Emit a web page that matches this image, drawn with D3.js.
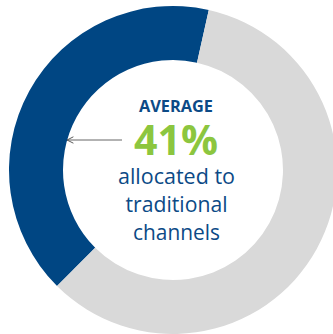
<!DOCTYPE html>
<html>
<head>
<meta charset="utf-8">
<script src="https://cdn.jsdelivr.net/npm/d3@7"></script>
<style>
  html, body { margin: 0; padding: 0; background: #fff; }
  svg { display: block; }
</style>
</head>
<body>
<div id="chart"></div>
<script>
const categories = ["Traditional channels", "Other channels"];
const values = [41, 59];
const colors = ["#004683", "#d9d9d9"];
const labelLines = ["allocated to", "traditional", "channels"];

function drawDonut() {
  const width = 333;
  const height = 334;
  const cx = 173, cy = 170;
  const outerR = 164, innerR = 110;

  const svg = d3.select("#chart").append("svg")
    .attr("width", width)
    .attr("height", height);

  const pie = d3.pie()
    .sort(null)
    .startAngle(-135 * Math.PI / 180)
    .endAngle(225 * Math.PI / 180);

  const arc = d3.arc().innerRadius(innerR).outerRadius(outerR);

  const g = svg.append("g").attr("transform", `translate(${cx},${cy})`);

  g.selectAll("path")
    .data(pie(values))
    .join("path")
      .attr("d", arc)
      .attr("fill", (d, i) => colors[i]);

  // arrow pointing to the blue segment
  svg.append("defs").append("marker")
    .attr("id", "arrow")
    .attr("viewBox", "0 0 10 10")
    .attr("refX", 9).attr("refY", 5)
    .attr("markerWidth", 8).attr("markerHeight", 8)
    .attr("markerUnits", "userSpaceOnUse")
    .attr("orient", "auto")
    .append("path")
      .attr("d", "M1,1 L9,5 L1,9")
      .attr("fill", "none")
      .attr("stroke", "#555")
      .attr("stroke-width", 1.2);

  svg.append("line")
    .attr("x1", 122).attr("y1", 140)
    .attr("x2", cx - innerR + 4).attr("y2", 140)
    .attr("stroke", "#666")
    .attr("stroke-width", 1)
    .attr("marker-end", "url(#arrow)");

  const font = "'Open Sans', 'Noto Sans', sans-serif";
  const tx = 176;
  svg.append("text")
    .attr("x", tx).attr("y", 112)
    .attr("text-anchor", "middle")
    .attr("font-family", font)
    .attr("font-weight", 700)
    .attr("font-size", 16.5)
    .attr("fill", "#0c4a86")
    .attr("textLength", 74)
    .attr("lengthAdjust", "spacingAndGlyphs")
    .text("AVERAGE");

  svg.append("text")
    .attr("x", tx).attr("y", 155)
    .attr("text-anchor", "middle")
    .attr("font-family", font)
    .attr("font-weight", 700)
    .attr("font-size", 42)
    .attr("fill", "#8cc63f")
    .attr("textLength", 84)
    .attr("lengthAdjust", "spacingAndGlyphs")
    .text(d3.format(".0f")(values[0]) + "%");

  const lineWidths = [117, 102, 87];
  svg.selectAll(".lbl")
    .data(labelLines)
    .join("text")
      .attr("class", "lbl")
      .attr("x", tx + 0.5)
      .attr("y", (d, i) => 184 + i * 28)
      .attr("text-anchor", "middle")
      .attr("font-family", font)
      .attr("font-size", 22)
      .attr("fill", "#0c4a86")
      .attr("textLength", (d, i) => lineWidths[i])
      .attr("lengthAdjust", "spacingAndGlyphs")
      .text(d => d);
}

drawDonut();
</script>
</body>
</html>
